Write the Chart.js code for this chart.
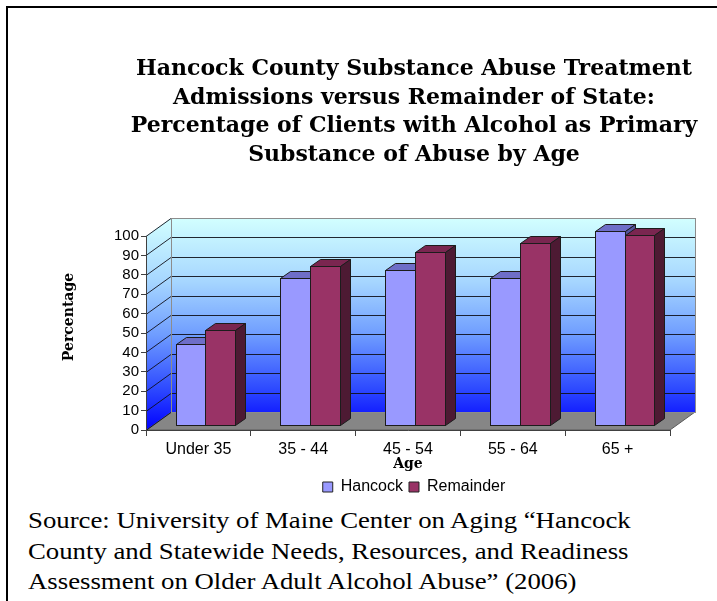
<!DOCTYPE html>
<html>
<head>
<meta charset="utf-8">
<title>Hancock County Alcohol Admissions by Age</title>
<script src="https://cdn.jsdelivr.net/npm/chart.js@4.4.1/dist/chart.umd.min.js"></script>
<style>
  html, body { margin: 0; padding: 0; background: #fff; }
  body { width: 717px; height: 601px; position: relative; overflow: hidden; }
  .frame {
    position: absolute; left: 6px; top: 6px; right: -10px; bottom: -10px;
    border-left: 2px solid #000; border-top: 2px solid #000;
  }
  #chart { position: absolute; left: 0; top: 0; }
  .source {
    position: absolute; left: 28px; top: 505px;
    font: 24px/30.5px "Liberation Serif", "Times New Roman", serif;
    color: #000; white-space: nowrap;
    transform: scaleX(1.115); transform-origin: 0 0;
  }
</style>
</head>
<body>
<div class="frame"></div>
<canvas id="chart" width="717" height="505"></canvas>
<div class="source">Source: University of Maine Center on Aging “Hancock<br>County and Statewide Needs, Resources, and Readiness<br>Assessment on Older Adult Alcohol Abuse” (2006)</div>
<script>
// Age groups and percentages of clients with alcohol as primary substance
const categories = ['Under 35', '35 - 44', '45 - 54', '55 - 64', '65 +'];
const hancock = [42, 76, 80, 76, 100];
const remainder = [49, 82, 89, 94, 98];
const yTickValues = [0, 10, 20, 30, 40, 50, 60, 70, 80, 90, 100];
const titleLines = [
    'Hancock County Substance Abuse Treatment',
    'Admissions versus Remainder of State:',
    'Percentage of Clients with Alcohol as Primary',
    'Substance of Abuse by Age'
];

// fake 3D: back wall offset and bar extrusion
const DEPTH_X = 25, DEPTH_Y = 18;
const BAR_SHIFT_X = 7, BAR_SHIFT_Y = 5;
const BAR_DEPTH_X = 10, BAR_DEPTH_Y = 7;

const faceColors = {
    Hancock: { front: '#9999ff', top: '#6e6ec8', side: '#55559e' },
    Remainder: { front: '#993366', top: '#7a2650', side: '#4d1a33' }
};

function wallGradient(ctx, top, bottom) {
    const g = ctx.createLinearGradient(0, top, 0, bottom);
    g.addColorStop(0, '#d2ffff');
    g.addColorStop(0.3, '#a6d6ff');
    g.addColorStop(0.55, '#6f9dff');
    g.addColorStop(0.8, '#2f4cff');
    g.addColorStop(1, '#0000ff');
    return g;
}

const wallsPlugin = {
    id: 'walls3d',
    beforeDraw(chart) {
        const { ctx, chartArea: a, scales: { y } } = chart;
        const grad = wallGradient(ctx, a.top - DEPTH_Y, a.bottom);
        ctx.save();

        // floor
        ctx.fillStyle = '#868686';
        ctx.strokeStyle = '#5a5a5a';
        ctx.lineWidth = 1;
        ctx.beginPath();
        ctx.moveTo(a.left, a.bottom);
        ctx.lineTo(a.right, a.bottom);
        ctx.lineTo(a.right + DEPTH_X, a.bottom - DEPTH_Y);
        ctx.lineTo(a.left + DEPTH_X, a.bottom - DEPTH_Y);
        ctx.closePath();
        ctx.fill();
        ctx.stroke();

        // back wall
        ctx.fillStyle = grad;
        ctx.fillRect(a.left + DEPTH_X, a.top - DEPTH_Y, a.right - a.left, a.bottom - a.top);

        // left side wall
        ctx.beginPath();
        ctx.moveTo(a.left, a.top);
        ctx.lineTo(a.left + DEPTH_X, a.top - DEPTH_Y);
        ctx.lineTo(a.left + DEPTH_X, a.bottom - DEPTH_Y);
        ctx.lineTo(a.left, a.bottom);
        ctx.closePath();
        ctx.fill();

        // gridlines across both walls
        ctx.strokeStyle = 'rgba(15,15,25,0.9)';
        y.ticks.forEach(t => {
            const py = Math.round(y.getPixelForValue(t.value)) + 0.5;
            ctx.beginPath();
            ctx.moveTo(a.left, py);
            ctx.lineTo(a.left + DEPTH_X, py - DEPTH_Y);
            if (t.value < y.max) ctx.lineTo(a.right + DEPTH_X, py - DEPTH_Y);
            ctx.stroke();
        });

        // wall outlines
        ctx.strokeStyle = '#8c8c8c';
        ctx.strokeRect(a.left + DEPTH_X + 0.5, a.top - DEPTH_Y + 0.5, a.right - a.left, a.bottom - a.top);
        ctx.restore();
    },
    afterDraw(chart) {
        const ctx = chart.ctx;
        ctx.save();
        ctx.translate(69, 317);
        ctx.rotate(-Math.PI / 2);
        ctx.font = 'bold 14px "DejaVu Serif"';
        ctx.fillStyle = '#000';
        ctx.textAlign = 'center';
        ctx.textBaseline = 'middle';
        ctx.fillText('Percentage', 0, 0);
        ctx.restore();
    }
};

function drawBar(ctx, bar, c) {
    const { x, y, base, width } = bar.getProps(['x', 'y', 'base', 'width'], true);
    const l = Math.round(x - width / 2 + BAR_SHIFT_X) + 0.5;
    const r = Math.round(x + width / 2 + BAR_SHIFT_X) + 0.5;
    const t = Math.round(y - BAR_SHIFT_Y) + 0.5;
    const b = Math.round(base - BAR_SHIFT_Y) + 0.5;
    ctx.strokeStyle = '#1c1c1c';
    ctx.lineWidth = 1;

    ctx.fillStyle = c.top;
    ctx.beginPath();
    ctx.moveTo(l, t);
    ctx.lineTo(l + BAR_DEPTH_X, t - BAR_DEPTH_Y);
    ctx.lineTo(r + BAR_DEPTH_X, t - BAR_DEPTH_Y);
    ctx.lineTo(r, t);
    ctx.closePath();
    ctx.fill();
    ctx.stroke();

    ctx.fillStyle = c.side;
    ctx.beginPath();
    ctx.moveTo(r, t);
    ctx.lineTo(r + BAR_DEPTH_X, t - BAR_DEPTH_Y);
    ctx.lineTo(r + BAR_DEPTH_X, b - BAR_DEPTH_Y);
    ctx.lineTo(r, b);
    ctx.closePath();
    ctx.fill();
    ctx.stroke();

    ctx.fillStyle = c.front;
    ctx.fillRect(l, t, r - l, b - t);
    ctx.strokeRect(l, t, r - l, b - t);
}

const bars3dPlugin = {
    id: 'bars3d',
    beforeDatasetDraw() {
        return false; // faces are painted below instead
    },
    afterDatasetsDraw(chart) {
        const ctx = chart.ctx;
        const metas = chart.getSortedVisibleDatasetMetas();
        ctx.save();
        categories.forEach((_, j) => {
            metas.forEach(meta => {
                const label = chart.data.datasets[meta.index].label;
                drawBar(ctx, meta.data[j], faceColors[label]);
            });
        });
        ctx.restore();
    }
};

new Chart(document.getElementById('chart'), {
    type: 'bar',
    data: {
        labels: categories,
        datasets: [{
            label: 'Hancock',
            data: hancock,
            backgroundColor: faceColors.Hancock.front,
            borderColor: '#222',
            borderWidth: 1,
            categoryPercentage: 0.57,
            barPercentage: 1
        }, {
            label: 'Remainder',
            data: remainder,
            backgroundColor: faceColors.Remainder.front,
            borderColor: '#222',
            borderWidth: 1,
            categoryPercentage: 0.57,
            barPercentage: 1
        }]
    },
    options: {
        responsive: false,
        animation: false,
        devicePixelRatio: 1,
        layout: {
            padding: { left: 111, right: 0, top: 0, bottom: 0 }
        },
        plugins: {
            title: {
                display: true,
                text: titleLines,
                color: '#000',
                font: { family: 'DejaVu Serif', weight: 'bold', size: 22, lineHeight: 1.3 },
                padding: { top: 55, bottom: 66.6 }
            },
            legend: {
                position: 'bottom',
                labels: {
                    color: '#000',
                    font: { family: 'Liberation Sans', size: 16 },
                    boxWidth: 10,
                    boxHeight: 10,
                    padding: 6
                }
            },
            tooltip: { enabled: false }
        },
        scales: {
            x: {
                grid: { drawOnChartArea: false, drawTicks: true, tickLength: 6, color: '#404040', offset: true },
                border: { color: '#404040' },
                ticks: { color: '#000', font: { family: 'Liberation Sans', size: 16 }, padding: 4, maxRotation: 0 },
                title: {
                    display: true,
                    text: 'Age',
                    color: '#000',
                    font: { family: 'DejaVu Serif', weight: 'bold', size: 14 },
                    padding: { top: 0, bottom: 0 }
                },
                afterFit(s) { s.height = 43; }
            },
            y: {
                min: 0,
                max: 100,
                afterBuildTicks(s) { s.ticks = yTickValues.map(v => ({ value: v })); },
                grid: { drawOnChartArea: false, tickLength: 5, color: '#404040' },
                border: { color: '#404040' },
                ticks: { color: '#000', font: { family: 'Liberation Sans', size: 15 }, padding: 2, autoSkip: false },
                afterFit(s) { s.width = 35; }
            },
            pad: {
                type: 'linear',
                position: 'right',
                display: true,
                grid: { display: false },
                ticks: { display: false },
                border: { display: false },
                afterFit(s) { s.width = 47; }
            }
        }
    },
    plugins: [wallsPlugin, bars3dPlugin]
});
</script>
</body>
</html>
